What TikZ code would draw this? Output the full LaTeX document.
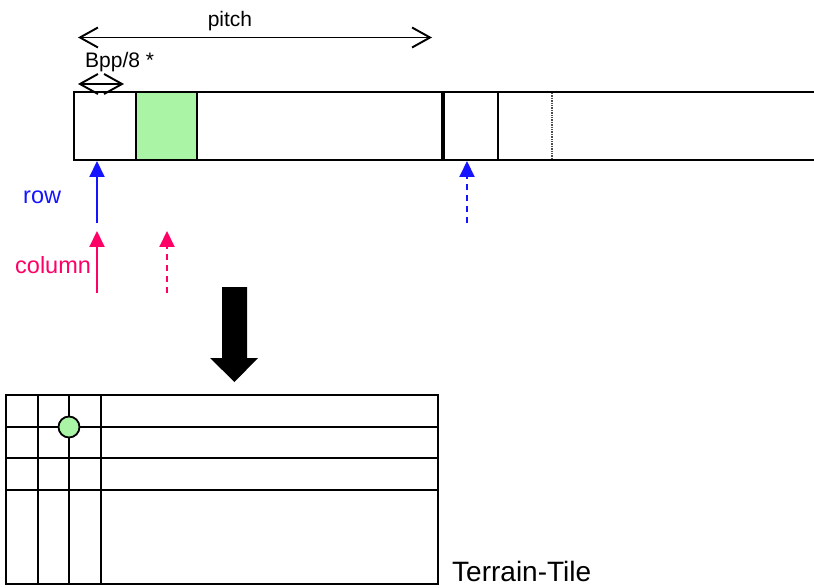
\documentclass[tikz,border=0pt]{standalone}
\usepackage{fontspec}
\setmainfont{Liberation Sans}
\usetikzlibrary{arrows.meta}
\definecolor{cellgreen}{RGB}{170,245,165}
\definecolor{rowblue}{RGB}{20,20,255}
\definecolor{colpink}{RGB}{255,0,102}
\tikzset{
  edge/.style={line width=2pt, black},
  barb/.style={line width=1.9pt, {Straight Barb[length=18pt,width=20pt,line width=1.9pt]}-{Straight Barb[length=18pt,width=20pt,line width=1.9pt]}},
  pointer/.style={line width=2pt, -{Triangle[length=16pt,width=15pt]}},
  lbl/.style={inner sep=0pt, anchor=base west},
}
\begin{document}
\begin{tikzpicture}[x=1pt,y=-1pt]
\useasboundingbox (0,0) rectangle (814,588);

% one row of the linear buffer
\fill[cellgreen] (136,92) rectangle (197,160);
\draw[edge] (814,92) -- (74,92) -- (74,160) -- (814,160);
\draw[edge] (136,92) -- (136,160);
\draw[edge] (197,92) -- (197,160);
\draw[line width=4.5pt] (443,92) -- (443,160);
\draw[edge] (498,92) -- (498,160);
\draw[line width=1.4pt, densely dotted, black!70] (552,93) -- (552,159);

% dimension arrows
\coordinate (pitchL) at (78,37.5);
\coordinate (pitchR) at (432,37.5);
\draw[barb] (pitchL) -- (pitchR);
\node[inner sep=0pt, anchor=base] (pitchlbl) at (230,27) {\fontsize{21}{24}\selectfont pitch};
\coordinate (bppL) at (78,84);
\coordinate (bppR) at (124,84);
\draw[barb] (bppL) -- (bppR);
\node[lbl] (bpplbl) at (85,68) {\fontsize{21}{24}\selectfont Bpp/8 *};

% row pointers
\coordinate (rowS) at (97,223);
\coordinate (rowT) at (97,161);
\draw[pointer, rowblue] (rowS) -- (rowT);
\coordinate (rowS2) at (467,223);
\coordinate (rowT2) at (467,161);
\draw[pointer, rowblue, dash pattern=on 6pt off 5pt] (rowS2) -- (rowT2);
\node[lbl, text=rowblue] (rowlbl) at (23,204) {\fontsize{23.5}{27}\selectfont row};

% column pointers
\coordinate (colS) at (97,293);
\coordinate (colT) at (97,231);
\draw[pointer, colpink] (colS) -- (colT);
\coordinate (colS2) at (167,293);
\coordinate (colT2) at (167,231);
\draw[pointer, colpink, dash pattern=on 6pt off 5pt] (colS2) -- (colT2);
\node[lbl, text=colpink] (collbl) at (15,273) {\fontsize{23.5}{27}\selectfont column};

% conversion arrow
\fill[black] (222,287) -- (247,287) -- (247,358) -- (258,358) -- (234.5,382)
  -- (210,358) -- (222,358) -- cycle;

% terrain tile grid
\draw[edge] (6,395) rectangle (438,584);
\foreach \gx in {38,69,101} \draw[edge] (\gx,395) -- (\gx,584);
\foreach \gy in {427,458,490} \draw[edge] (6,\gy) -- (438,\gy);
\node[circle, draw=black, line width=1.8pt, fill=cellgreen, minimum size=21pt, inner sep=0pt] (sample) at (69,427) {};
\node[lbl] (tilelbl) at (452,581.5) {\fontsize{28}{32}\selectfont Terrain-Tile};
\end{tikzpicture}
\end{document}
